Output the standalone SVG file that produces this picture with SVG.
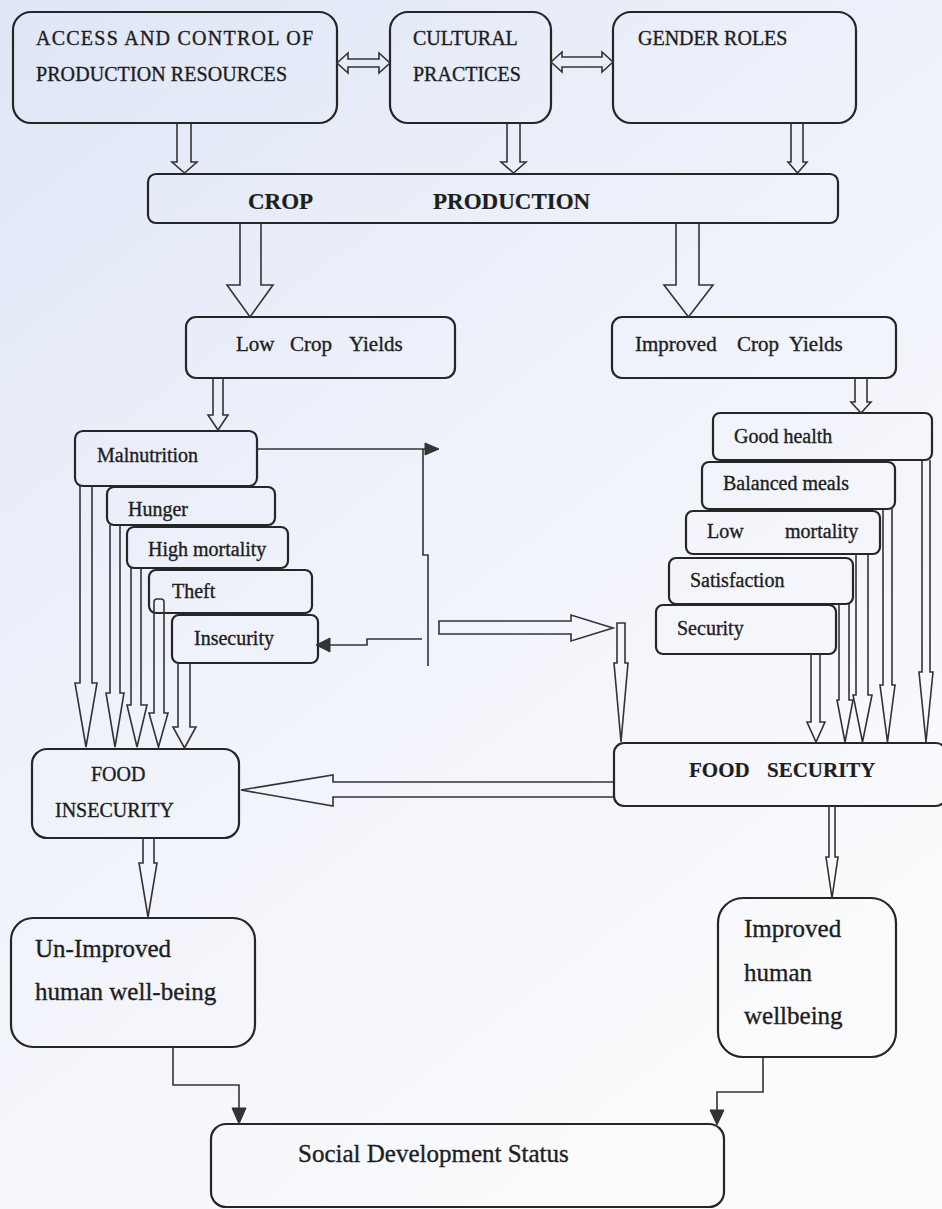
<svg xmlns="http://www.w3.org/2000/svg" width="942" height="1209" viewBox="0 0 942 1209">
<defs>
<linearGradient id="bg" x1="0" y1="0" x2="0.6" y2="1">
<stop offset="0" stop-color="#dfe6f6"/>
<stop offset="0.45" stop-color="#eef1fa"/>
<stop offset="1" stop-color="#fbfbfd"/>
</linearGradient>
<style>
.box{fill:none;stroke:#262626;stroke-width:2.2}
.arr{fill:none;stroke:#333;stroke-width:1.6;stroke-linejoin:miter}
.ln{fill:none;stroke:#333;stroke-width:1.6}
.hd{fill:#333;stroke:#333;stroke-width:1}
text{font-family:"Liberation Serif","Times New Roman",serif;fill:#1e1e1e;stroke:#1e1e1e;stroke-width:0.35}
.t20{font-size:20px}
.t21{font-size:21px}
.b23{font-size:23px;font-weight:bold;stroke-width:0.2}
.b21{font-size:21px;font-weight:bold;stroke-width:0.2}
.t25{font-size:25px}
</style>
</defs>
<rect x="0" y="0" width="942" height="1209" fill="url(#bg)"/>

<g id="n-access">
<rect class="box" x="13" y="12" width="324" height="111" rx="18"/>
<text class="t20" x="36" y="45" textLength="277" lengthAdjust="spacing">ACCESS AND CONTROL OF</text>
<text class="t20" x="36" y="81" textLength="251" lengthAdjust="spacing">PRODUCTION RESOURCES</text>
</g>
<g id="n-cultural">
<rect class="box" x="390" y="12" width="161" height="111" rx="18"/>
<text class="t20" x="413" y="45">CULTURAL</text>
<text class="t20" x="413" y="81">PRACTICES</text>
</g>
<g id="n-gender">
<rect class="box" x="613" y="12" width="243" height="111" rx="18"/>
<text class="t20" x="638" y="45">GENDER ROLES</text>
</g>
<g id="n-crop">
<rect class="box" x="148" y="174" width="690" height="49" rx="8"/>
<text class="b23" x="248" y="209">CROP</text>
<text class="b23" x="433" y="209">PRODUCTION</text>
</g>
<g id="n-low">
<rect class="box" x="186" y="317" width="269" height="61" rx="10"/>
<text class="t21" y="351"><tspan x="236">Low</tspan><tspan x="290">Crop</tspan><tspan x="349">Yields</tspan></text>
</g>
<g id="n-improved">
<rect class="box" x="612" y="317" width="284" height="61" rx="10"/>
<text class="t21" y="351"><tspan x="635">Improved</tspan><tspan x="737">Crop</tspan><tspan x="789">Yields</tspan></text>
</g>
<g id="n-malnutrition">
<rect class="box" x="75" y="431" width="182" height="55" rx="8"/>
<text class="t20" x="97" y="462">Malnutrition</text>
</g>
<g id="n-hunger">
<rect class="box" x="107" y="487" width="168" height="38" rx="7"/>
<text class="t20" x="128" y="516">Hunger</text>
</g>
<g id="n-highmortality">
<rect class="box" x="127" y="527" width="161" height="41" rx="7"/>
<text class="t20" x="148" y="556">High mortality</text>
</g>
<g id="n-theft">
<rect class="box" x="149" y="570" width="163" height="43" rx="7"/>
<text class="t20" x="172" y="598">Theft</text>
</g>
<g id="n-insecurity">
<rect class="box" x="172" y="615" width="146" height="48" rx="7"/>
<text class="t20" x="194" y="645">Insecurity</text>
</g>
<g id="n-foodinsecurity">
<rect class="box" x="32" y="749" width="207" height="89" rx="15"/>
<text class="t20" x="91" y="781">FOOD</text>
<text class="t20" x="55" y="817">INSECURITY</text>
</g>
<g id="n-goodhealth">
<rect class="box" x="713" y="413" width="219" height="47" rx="7"/>
<text class="t20" x="734" y="443">Good health</text>
</g>
<g id="n-balanced">
<rect class="box" x="702" y="462" width="193" height="47" rx="7"/>
<text class="t20" x="723" y="490">Balanced meals</text>
</g>
<g id="n-lowmortality">
<rect class="box" x="686" y="511" width="194" height="43" rx="7"/>
<text class="t20" y="538"><tspan x="707">Low</tspan><tspan x="785">mortality</tspan></text>
</g>
<g id="n-satisfaction">
<rect class="box" x="669" y="558" width="184" height="46" rx="7"/>
<text class="t20" x="690" y="587">Satisfaction</text>
</g>
<g id="n-security">
<rect class="box" x="656" y="605" width="180" height="49" rx="7"/>
<text class="t20" x="677" y="635">Security</text>
</g>
<g id="n-foodsecurity">
<rect class="box" x="614" y="743" width="332" height="63" rx="10"/>
<text class="b21" y="777"><tspan x="689">FOOD</tspan><tspan x="767">SECURITY</tspan></text>
</g>
<g id="n-unimproved">
<rect class="box" x="11" y="918" width="244" height="129" rx="22"/>
<text class="t25" x="35" y="957">Un-Improved</text>
<text class="t25" x="35" y="1000">human well-being</text>
</g>
<g id="n-improvedwellbeing">
<rect class="box" x="718" y="898" width="178" height="159" rx="25"/>
<text class="t25" x="744" y="937">Improved</text>
<text class="t25" x="744" y="981">human</text>
<text class="t25" x="744" y="1024">wellbeing</text>
</g>
<g id="n-social">
<rect class="box" x="211" y="1124" width="513" height="83" rx="15"/>
<text class="t25" x="298" y="1162">Social Development Status</text>
</g>

<g id="connectors">
<path class="arr" d="M337,63 L348,53 V59 H379 V53 L390,63 L379,73 V67 H348 V73 Z"/>
<path class="arr" d="M551,62 L562,52 V57 H602 V52 L613,62 L602,72 V67 H562 V72 Z"/>
<path class="arr" d="M177,123 V162 H172 L184.5,173 L197,162 H191 V123"/>
<path class="arr" d="M507,123 V162 H501 L513.5,173 L526,162 H520 V123"/>
<path class="arr" d="M791,123 V162 H788 L797.5,173 L807,162 H803 V123"/>
<path class="arr" d="M240,223 V285 H227 L250,317 L273,285 H261 V223"/>
<path class="arr" d="M676,223 V285 H664 L688.5,317 L713,285 H699 V223"/>
<path class="arr" d="M213,378 V415 H208 L218,430 L228,415 H223 V378"/>
<path class="arr" d="M855,378 V402 H851 L861,413 L871,402 H867 V378"/>
<path class="arr" d="M80,486 V683 H75 L86,747 L97,683 H92 V486"/>
<path class="arr" d="M110,525 V693 H106 L115,747 L124,693 H120 V525"/>
<path class="arr" d="M131,568 V705 H127 L137,747 L147,705 H141 V568"/>
<path class="arr" d="M154,602 Q154,599 157,599 H161 Q164,599 164,602 V713 H168 L158.5,747 L149,713 H154 Z"/>
<path class="arr" d="M178,663 V727 H173 L184.5,748 L196,727 H190 V663"/>
<path class="arr" d="M811,654 V722 H807 L816,742 L825,722 H820 V654"/>
<path class="arr" d="M839,604 V700 H837 L845,742 L853,700 H849 V604"/>
<path class="arr" d="M856,554 V695 H853 L862.5,742 L872,695 H868 V554"/>
<path class="arr" d="M883,509 V685 H880 L887.5,742 L895,685 H892 V509"/>
<path class="arr" d="M922,460 V672 H919 L926,742 L933,672 H930 V460"/>
<path class="arr" d="M439,621 H571 V615 L613,628 L571,641 V634 H439 Z"/>
<path class="arr" d="M617,623 H625 V663 H628 L621,742 L614,663 H617 Z"/>
<path class="arr" d="M614,782 H333 V775 L241,790 L333,806 V797 H614"/>
<path class="ln" d="M257,449 H426"/>
<polygon class="hd" points="425,443 439,449 425,455"/>
<path class="ln" d="M423,449 V555 H428 V666"/>
<path class="ln" d="M422,639 H367 V645 H329"/>
<polygon class="hd" points="316,645 330,638 330,652"/>
<path class="arr" d="M143,838 V863 H139 L148,917 L157,863 H154 V838"/>
<path class="arr" d="M829,806 V857 H826 L832,898 L838,857 H835 V806"/>
<path class="ln" d="M173,1047 V1085 H239 V1109"/>
<polygon class="hd" points="232,1108 246,1108 239,1124"/>
<path class="ln" d="M763,1057 V1092 H717 V1111"/>
<polygon class="hd" points="710,1110 724,1110 717,1125"/>
</g>
</svg>
